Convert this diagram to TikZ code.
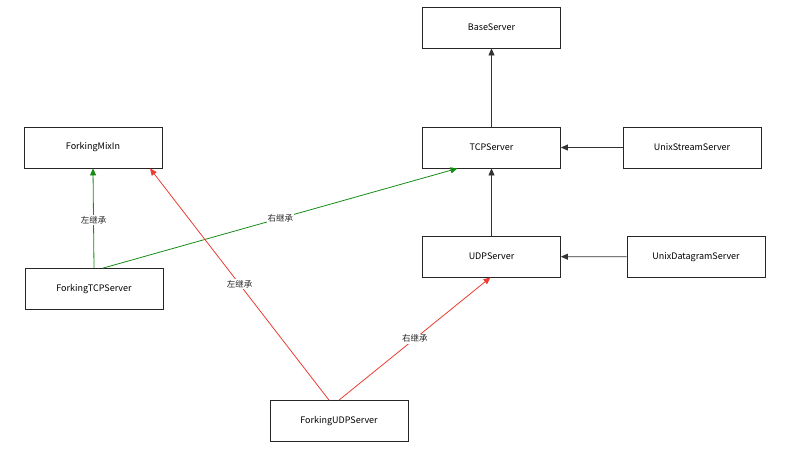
\documentclass[tikz,border=0pt]{standalone}
\usepackage{fontspec}
\setmainfont{Noto Sans CJK SC}
\usetikzlibrary{arrows.meta}
\begin{document}
\begin{tikzpicture}[x=1pt,y=-1pt,
  box/.style={draw=black!85,line width=0.8pt,minimum width=138pt,minimum height=41pt,inner sep=0pt,font=\fontsize{9}{11}\selectfont},
  arr/.style={line width=0.8pt,-{Triangle[length=7pt,width=6pt]}},
  lbl/.style={fill=white,text=black!85,inner sep=1pt,font=\fontsize{8.5}{10}\selectfont}]
\useasboundingbox (0,0) rectangle (791,451);
\definecolor{gr}{RGB}{20,140,20}
\definecolor{rd}{RGB}{235,60,50}
\node[box] (base) at (491.5,27.5) {BaseServer};
\node[box] (tcp) at (491.5,147.5) {TCPServer};
\node[box] (us) at (692,147.5) {UnixStreamServer};
\node[box] (udp) at (491.5,256.5) {UDPServer};
\node[box] (ud) at (696,257) {UnixDatagramServer};
\node[box] (mix) at (93,147.5) {ForkingMixIn};
\node[box] (ftcp) at (94,289) {ForkingTCPServer};
\node[box] (fudp) at (339,421) {ForkingUDPServer};
\draw[arr,black!80] (tcp) -- (base);
\draw[arr,black!80] (us) -- (tcp);
\draw[arr,black!80] (udp) -- (tcp);
\draw[arr,black!80] (ud) -- (udp);
\draw[arr,gr] (ftcp.north) -- node[lbl,pos=0.48]{左继承} (mix.south);
\draw[arr,gr] ([xshift=9pt]ftcp.north) -- node[lbl,pos=0.5]{右继承} ([xshift=-34pt]tcp.south);
\draw[arr,rd] ([xshift=-10pt]fudp.north) -- node[lbl,pos=0.5]{左继承} ([xshift=57pt]mix.south);
\draw[arr,rd] (fudp.north) -- node[lbl,pos=0.5]{右继承} ([xshift=-1pt]udp.south);
\end{tikzpicture}
\end{document}
